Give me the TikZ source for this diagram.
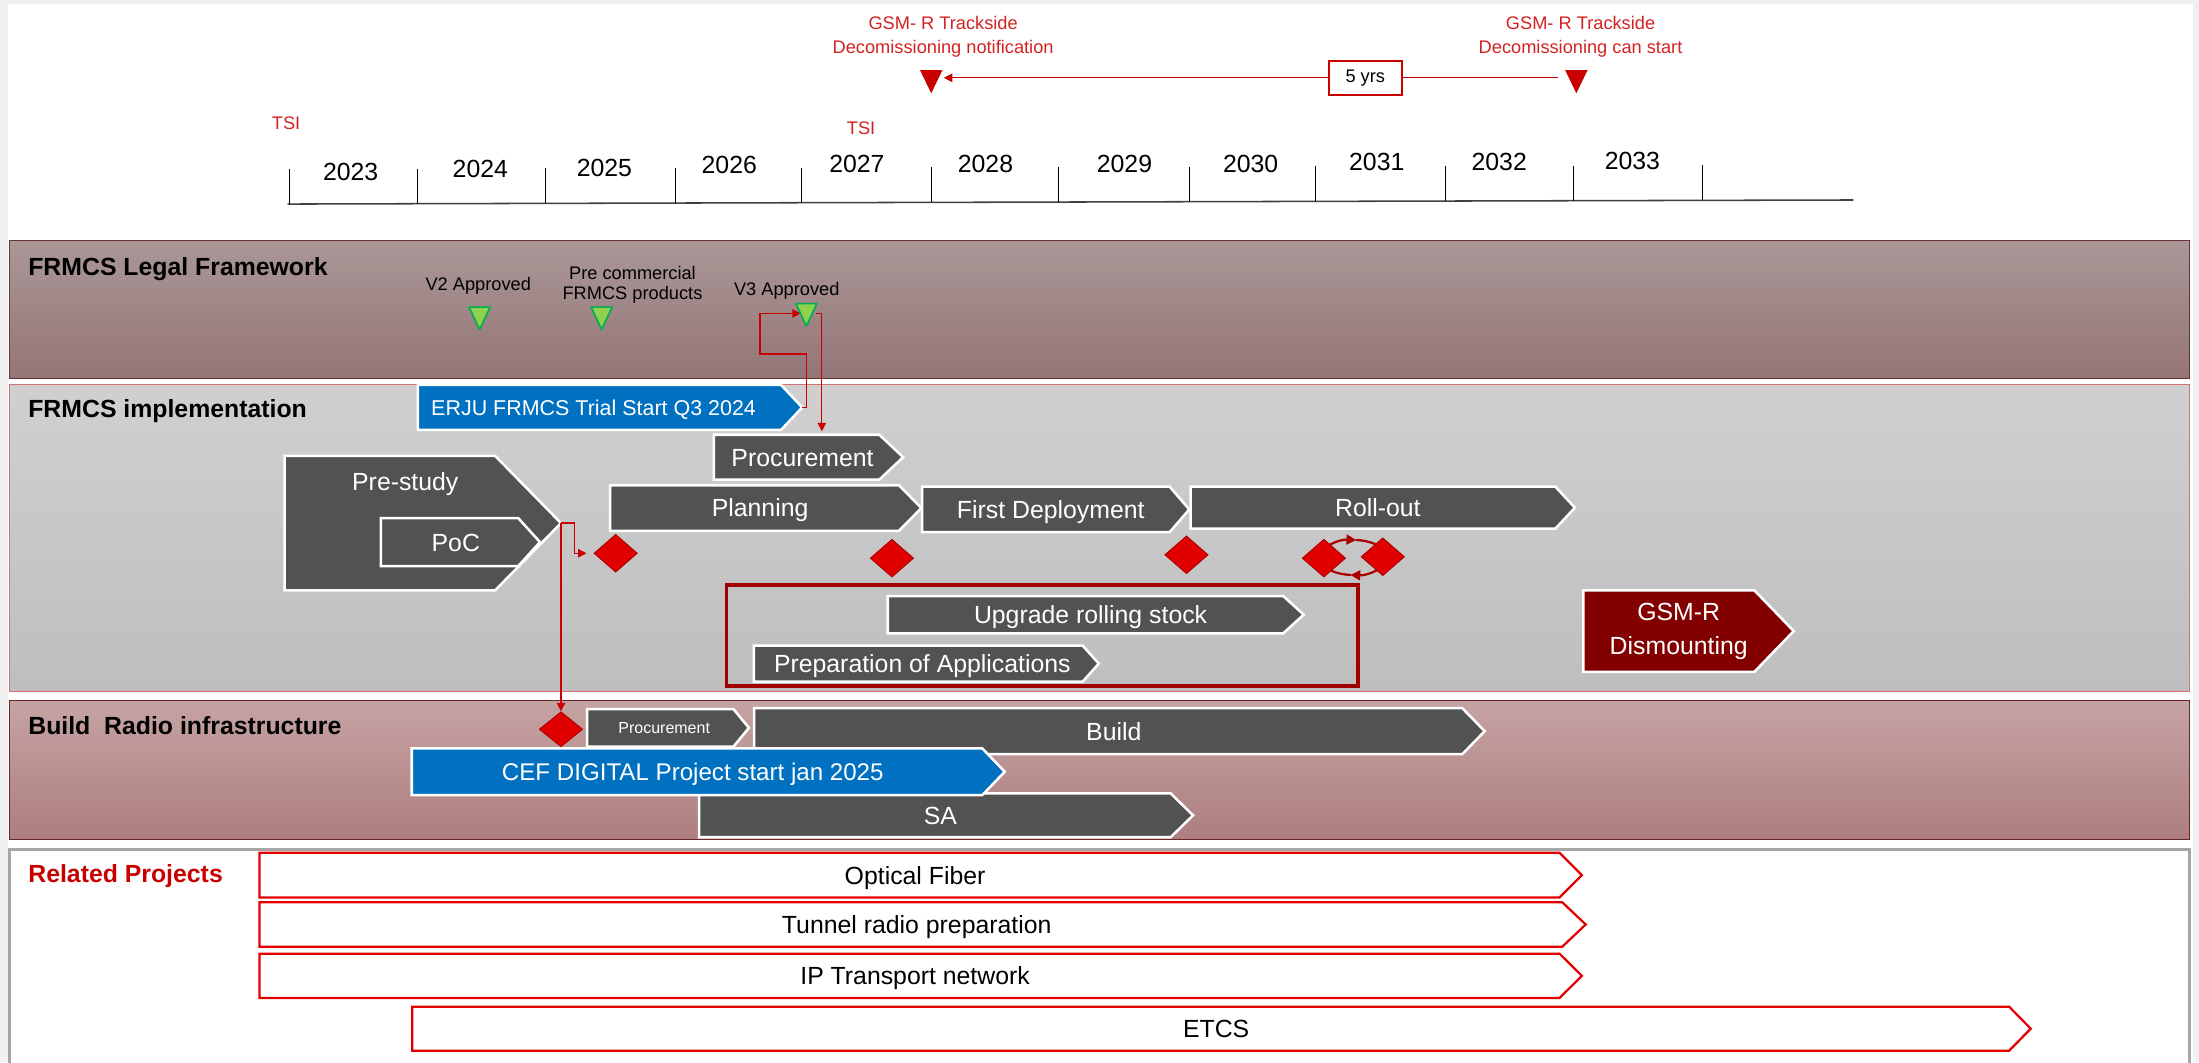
\documentclass[tikz,border=0pt]{standalone}
\usepackage{fontspec}
\setmainfont{Liberation Sans}
\usetikzlibrary{arrows.meta,shapes.geometric,calc}

\definecolor{pagegray}{HTML}{F0F0F0}
\definecolor{bargray}{HTML}{525252}
\definecolor{barblue}{HTML}{0070C0}
\definecolor{bargsm}{HTML}{820000}
\definecolor{msred}{HTML}{E00000}
\definecolor{lnred}{HTML}{C80000}
\definecolor{txtred}{HTML}{D42222}
\definecolor{boxred}{HTML}{A00000}
\definecolor{legaltop}{HTML}{AA9797}
\definecolor{legalbot}{HTML}{957577}
\definecolor{impltop}{HTML}{D0D0D0}
\definecolor{implbot}{HTML}{BEBEBE}
\definecolor{buildtop}{HTML}{C6A3A3}
\definecolor{buildbot}{HTML}{AD7E7F}
\definecolor{greenfill}{HTML}{92D050}
\definecolor{greenline}{HTML}{00B050}

\newcommand\fsL{\fontsize{17.7}{21}\selectfont}
\newcommand\fsM{\fontsize{15.3}{18}\selectfont}
\newcommand\fsS{\fontsize{13}{16.7}\selectfont}
\newcommand\fsXS{\fontsize{11.4}{13}\selectfont}

% chevron bar: name, style, left x, top y, tip x, bottom y, tip depth, label
\newcommand\chev[8]{%
  \path[#2] (#3,#4) -- ({#5-#7},#4) -- (#5,{(#4+#6)/2}) -- ({#5-#7},#6) -- (#3,#6) -- cycle;
  \node[#2 text] (#1) at ({(#3+#5-#7/2)/2},{(#4+#6)/2}) {#8};
  \coordinate (#1 tip) at (#5,{(#4+#6)/2});
}
% downward milestone triangle: name, style, centre x, top y, width, height
\newcommand\milestri[6]{%
  \path[#2] ({#3-#5/2},#4) -- ({#3+#5/2},#4) -- (#3,{#4+#6}) -- cycle;
  \coordinate (#1) at (#3,{#4+#6/2});
}

\tikzset{
  darkbar/.style={fill=bargray, draw=white, line width=1.8pt},
  darkbar text/.style={text=white, font=\fsL, inner sep=0, text height=12.7pt, text depth=0pt},
  smallbar/.style={darkbar},
  smallbar text/.style={text=white, font=\fsXS, inner sep=0, text height=8.2pt, text depth=0pt},
  bluebar/.style={fill=barblue, draw=white, line width=1.8pt},
  bluebar text/.style={text=white, font=\fsM, inner sep=0, text height=11pt, text depth=0pt, xshift=-8pt},
  cefbar/.style={bluebar},
  cefbar text/.style={text=white, font=\fontsize{17.2}{20}\selectfont, inner sep=0, text height=12.3pt, text depth=0pt, xshift=-7pt},
  gsmbar/.style={fill=bargsm, draw=white, line width=1.8pt},
  gsmbar text/.style={text=white, font=\fontsize{17.7}{24}\selectfont, inner sep=0, align=center},
  outbar/.style={fill=white, draw=red!90!black, line width=1.6pt},
  outbar text/.style={text=black, font=\fsL, inner sep=0, text height=12.7pt, text depth=0pt},
  bandtitle/.style={anchor=west, font=\bfseries\fsL, inner sep=0, text height=12.7pt, text depth=0pt},
  yearlabel/.style={font=\fsL, inner sep=0, text height=12.7pt, text depth=0pt},
  smalllabel/.style={font=\fsS, inner sep=0, text height=9.3pt, text depth=0pt},
  redlabel/.style={text=txtred, font=\fsS, inner sep=0, align=center},
  redtri/.style={fill=lnred},
  greentri/.style={fill=greenfill, draw=greenline, line width=1.2pt, line join=round},
  milestone/.style={diamond, fill=msred, draw=msred!75!black, line width=0.6pt,
    minimum width=31pt, minimum height=27pt, inner sep=0},
  conn/.style={draw=lnred, line width=0.9pt, -{Triangle[length=6pt,width=6pt]}},
  looparrow/.style={draw=lnred!85!black, line width=1.6pt},
  yeartick/.style={draw=black, line width=0.7pt},
  axisline/.style={draw=black!75, line width=1.1pt},
}

\begin{document}
\begin{tikzpicture}[x=1pt,y=-1pt]
\useasboundingbox (0,0) rectangle (1568,757.3);
\fill[pagegray] (0,0) rectangle (1568,757.3);
\fill[white] (6,3) rectangle (1564,757.3);

% ---------- swim lanes ----------
\path[top color=legaltop, bottom color=legalbot, draw=legalbot!70!red!60!black, line width=0.8pt]
  (7,171.6) rectangle (1561,270);
\path[top color=impltop, bottom color=implbot, draw=red!40!implbot, line width=0.8pt]
  (7,274) rectangle (1561,493);
\path[top color=buildtop, bottom color=buildbot, draw=buildbot!60!red!50!black, line width=0.8pt]
  (7,499.6) rectangle (1561,598.5);
\draw[black!35, line width=2pt, fill=white] (6.5,605.5) rectangle (1561,765);

\node[bandtitle] (tlegal) at (20,190.2) {FRMCS Legal Framework};
\node[bandtitle] (timpl) at (20,291.2) {FRMCS implementation};
\node[bandtitle] (tbuild) at (20,517.5) {Build\ \ Radio infrastructure};
\node[bandtitle, text=lnred] (trel) at (20,622.7) {Related Projects};

% ---------- time axis ----------
\coordinate (ax0) at (205,145.5);
\coordinate (ax1) at (1321.6,142.6);
\draw[axisline] (ax0) -- (ax1);
\foreach \x in {206.6,297.6,389,481.7,571.7,664,755,847.9,938.3,1030.7,1122.2,1214}{
  \pgfmathsetmacro\yl{145.5-2.9*(\x-205)/1116.6}
  \draw[yeartick] (\x,\yl) -- (\x,{\yl-25});
}
\foreach \x/\y/\t in {250/122.4/2023, 342.5/120.5/2024, 431/119.5/2025, 520/117.5/2026,
    611/117/2027, 702.7/117/2028, 801.8/116.5/2029, 891.8/116.5/2030, 981.7/115.5/2031,
    1069/115/2032, 1164/114.5/2033}
  \node[yearlabel] (y\t) at (\x,\y) {\t};

\node[smalllabel, text=txtred] (tsia) at (204,87.9) {TSI};
\node[smalllabel, text=txtred] (tsib) at (614,91.5) {TSI};

% ---------- GSM-R decommissioning notice ----------
\node[redlabel] (notif) at (672.5,26.2) {GSM- R Trackside\\Decomissioning notification};
\node[redlabel] (canstart) at (1127,26.2) {GSM- R Trackside\\Decomissioning can start};
\milestri{ntri}{redtri}{664}{50}{16}{16.5}
\milestri{ctri}{redtri}{1124}{50}{16}{16.5}
\coordinate (ntri east) at (673,55.5);
\coordinate (ctri west) at (1111,55.5);
\node[draw=lnred, line width=1.4pt, fill=white, minimum width=52pt, minimum height=24pt,
  font=\fsS, inner sep=0] (yrs) at (973.5,55.5) {5 yrs};
\draw[conn] (yrs.west) -- (ntri east);
\draw[draw=lnred, line width=0.9pt] (yrs.east) -- (ctri west);

% ---------- legal framework milestones ----------
\node[smalllabel] (v2lab) at (341,202.5) {V2 Approved};
\node[font=\fontsize{13}{14.1}\selectfont, inner sep=0, align=center] (pclab) at (451,203.2)
  {Pre commercial\\FRMCS products};
\node[smalllabel] (v3lab) at (561,206.3) {V3 Approved};

% ---------- implementation ----------
\chev{erju}{bluebar}{298}{274.5}{572}{306.5}{15}{ERJU FRMCS Trial Start Q3 2024}
\chev{proc}{darkbar}{509}{310}{644}{342}{17}{Procurement}

\path[darkbar] (203,325) -- (353,325) -- (400,373) -- (353,421) -- (203,421) -- cycle;
\node[darkbar text] (pre) at (289,343.5) {Pre-study};
\coordinate (pre tip) at (400,373);
\path[darkbar] (271.5,369.5) -- (369.6,369.5) -- (385,386.5) -- (369.6,403.6) -- (271.5,403.6) -- cycle;
\node[darkbar text] (poc) at (325,387) {PoC};

\chev{plan}{darkbar}{435}{346}{657}{378.5}{16}{Planning}
\chev{first}{darkbar}{657.5}{347}{848}{379.5}{14}{First Deployment}
\chev{roll}{darkbar}{849}{347}{1123}{377}{14}{Roll-out}

\draw[draw=boxred, line width=2.8pt] (518,417) rectangle (968.5,489);
\chev{upg}{darkbar}{633}{425}{929.6}{451.6}{14.6}{Upgrade rolling stock}
\chev{prep}{darkbar}{537.6}{460.4}{783.5}{486}{11.5}{Preparation of Applications}
\chev{gsm}{gsmbar}{1129}{421}{1279}{479}{28}{GSM-R\\Dismounting}

% roll-out iteration loop between two milestones
\coordinate (m4) at (944,398);
\coordinate (m5) at (986,397);
\coordinate (loopc) at ($(m4)!0.5!(m5)$);
\draw[looparrow, -{Triangle[length=7pt,width=7pt]}] ($(loopc)+(200:24 and 12.5)$)
  arc[start angle=200, end angle=275, x radius=24, y radius=12.5];
\draw[looparrow] ($(loopc)+(274:24 and 12.5)$)
  arc[start angle=274, end angle=340, x radius=24, y radius=12.5];
\draw[looparrow, -{Triangle[length=7pt,width=7pt]}] ($(loopc)+(20:24 and 12.5)$)
  arc[start angle=20, end angle=95, x radius=24, y radius=12.5];
\draw[looparrow] ($(loopc)+(94:24 and 12.5)$)
  arc[start angle=94, end angle=160, x radius=24, y radius=12.5];

\node[milestone] (d1) at (439,394.5) {};
\node[milestone] (d2) at (636,398) {};
\node[milestone] (d3) at (846,395.6) {};
\node[milestone] (d4) at (m4) {};
\node[milestone] (d5) at (m5) {};

% ---------- radio infrastructure ----------
\chev{bproc}{smallbar}{418.7}{505.6}{534}{532.4}{11}{Procurement}
\chev{build}{darkbar}{537.7}{505}{1058.7}{537.7}{16}{Build}
\chev{sa}{darkbar}{498.5}{565.7}{850.7}{597}{16}{SA}
\chev{cef}{cefbar}{293.6}{533.6}{716.4}{567}{16}{CEF DIGITAL Project start jan 2025}
\node[milestone, minimum height=25pt] (bd) at (400,520) {};

% ---------- related projects ----------
\chev{fiber}{outbar}{185}{608}{1128}{640}{16}{Optical Fiber}
\chev{tunnel}{outbar}{185}{643.4}{1130.7}{675}{16.7}{Tunnel radio preparation}
\chev{ip}{outbar}{185}{680}{1128}{711.6}{16}{IP Transport network}
\chev{etcs}{outbar}{294}{717.8}{1448}{749.2}{15.4}{ETCS}

% ---------- dependencies ----------
\coordinate (v3 w) at (571,223.5);
\coordinate (v3 e) at (582,223.5);
\coordinate (proc in) at (586,307.5);
\draw[conn] (erju tip) -| (575,252.5) -| (542,223.5) -- (v3 w);
\draw[conn] (v3 e) -| (proc in);
\draw[conn] (pre tip) -- ++(9.5,0) |- ($(d1.west)+(-5,0)$);
\draw[conn] (pre tip) -- (bd.north);

\milestri{v2}{greentri}{342}{219}{15}{16}
\milestri{pc}{greentri}{429}{219}{15}{16}
\milestri{v3}{greentri}{575}{216.5}{15}{16}
\end{tikzpicture}
\end{document}
